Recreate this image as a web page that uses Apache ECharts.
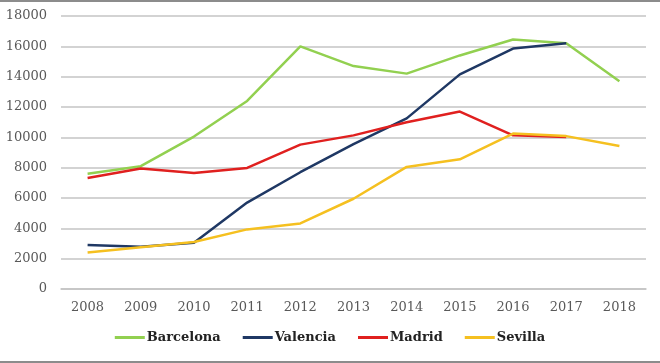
<!DOCTYPE html>
<html><head><meta charset="utf-8">
<script src="https://cdn.jsdelivr.net/npm/echarts@6/dist/echarts.min.js"></script>
<style>html,body{margin:0;padding:0;background:#fff}#c{width:660px;height:363px}</style>
</head><body><div id="c"></div>
<script>
var years = ['2008','2009','2010','2011','2012','2013','2014','2015','2016','2017','2018'];
var barcelona = [7600, 8100, 10050, 12400, 16000, 14700, 14200, 15400, 16450, 16200, 13700];
var valencia  = [2900, 2780, 3050, 5700, 7700, 9550, 11250, 14150, 15850, 16200, null];
var madrid    = [7320, 7950, 7650, 7980, 9520, 10130, 11000, 11700, 10130, 10030, null];
var sevilla   = [2400, 2750, 3100, 3930, 4320, 5950, 8050, 8550, 10250, 10080, 9430];
var yTicks = [0, 2000, 4000, 6000, 8000, 10000, 12000, 14000, 16000, 18000];

var font = 'DejaVu Serif';
function mk(name, data, color) {
  return { name: name, type: 'line', data: data, symbol: 'none', connectNulls: false,
    lineStyle: { color: color, width: 2.5 }, itemStyle: { color: color } };
}
var chart = echarts.init(document.getElementById('c'));
chart.setOption({
  animation: false,
  backgroundColor: '#fff',
  grid: { left: 61, right: 14, top: 16, bottom: 74 },
  xAxis: { type: 'category', data: years, boundaryGap: true,
    axisLine: { show: true, lineStyle: { color: '#c4c4c4', width: 1.5 } },
    axisTick: { show: false },
    axisLabel: { fontFamily: font, fontSize: 13, color: '#595959', margin: 12 } },
  yAxis: { type: 'value', min: yTicks[0], max: yTicks[yTicks.length-1], interval: 2000,
    axisLine: { show: false }, axisTick: { show: false },
    splitLine: { lineStyle: { color: '#c4c4c4', width: 1.5 } },
    axisLabel: { fontFamily: font, fontSize: 13, color: '#595959', margin: 14,
      formatter: function (v) { return String(v); } } },
  legend: { bottom: 14, left: 'center', itemWidth: 30, itemHeight: 3, itemGap: 22,
    icon: 'rect',
    textStyle: { fontFamily: font, fontSize: 13, fontWeight: 'bold', color: '#222', padding: [0, 0, 0, -3] } },
  series: [
    mk('Barcelona', barcelona, '#92d050'),
    mk('Valencia', valencia, '#1f3864'),
    mk('Madrid', madrid, '#e0201f'),
    mk('Sevilla', sevilla, '#f5c020')
  ],
  graphic: [
    { type: 'rect', shape: { x: 0, y: 0, width: 660, height: 2 }, style: { fill: '#8c8c8c' } },
    { type: 'rect', shape: { x: 0, y: 361, width: 660, height: 2 }, style: { fill: '#8c8c8c' } }
  ]
});
</script></body></html>
